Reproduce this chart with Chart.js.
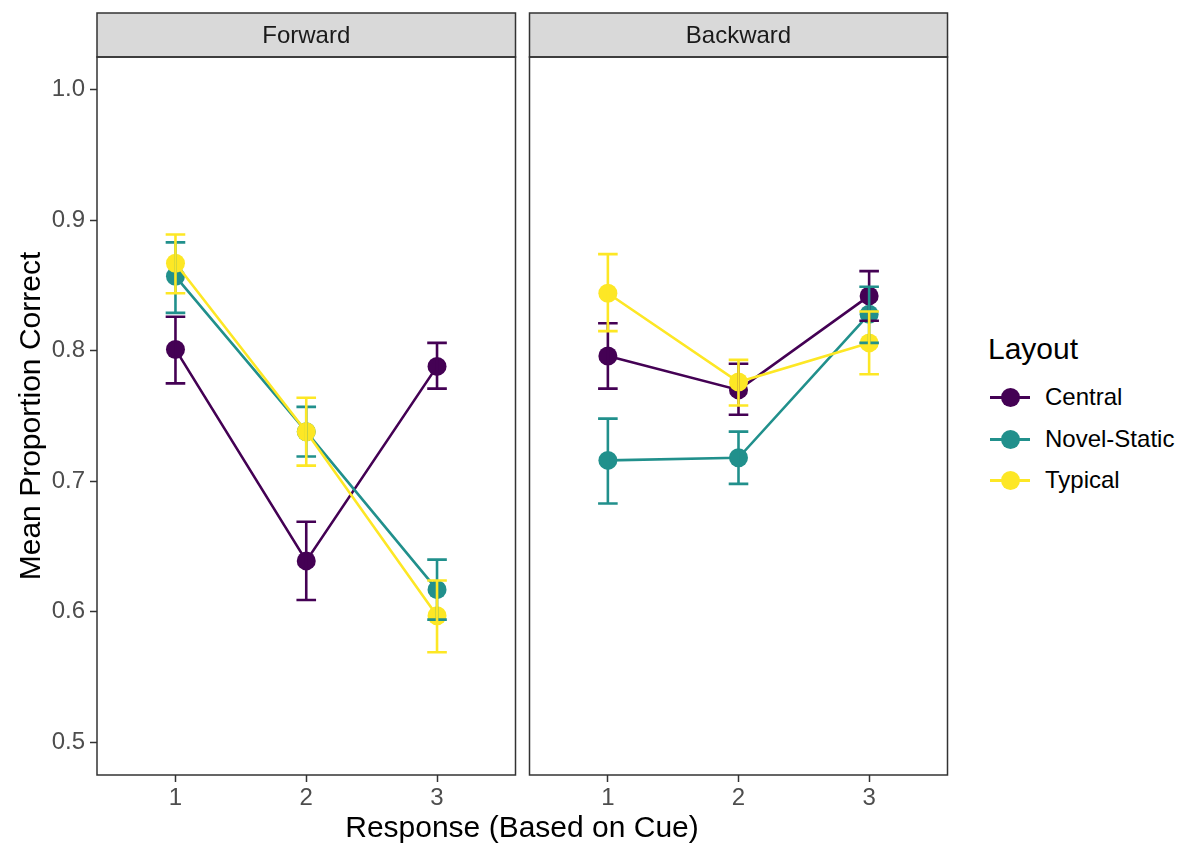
<!DOCTYPE html>
<html>
<head>
<meta charset="utf-8">
<title>Mean Proportion Correct by Response and Layout</title>
<script src="https://cdn.jsdelivr.net/npm/chart.js@4.4.1/dist/chart.umd.min.js"></script>
<style>
  html, body { margin: 0; padding: 0; background: #ffffff; }
  #wrap { position: relative; width: 1184px; height: 845px; overflow: hidden;
          font-family: "Liberation Sans", Arial, Helvetica, sans-serif; }
  canvas { position: absolute; top: 0; }
  #forward { left: 0; }
  #backward { left: 520px; }
  .xtitle { position: absolute; left: 322px; width: 400px; top: 809px; text-align: center;
            font-size: 30px; line-height: 36px; color: #000; }
  .legend-title { position: absolute; left: 988px; top: 331px; font-size: 30px; line-height: 36px; color: #000; }
  .legend-row { position: absolute; left: 988px; height: 30px; width: 196px; }
  .legend-row .line { position: absolute; left: 2px; top: 14px; width: 40px; height: 2.6px; }
  .legend-row .dot { position: absolute; left: 12.5px; top: 5.5px; width: 19px; height: 19px; border-radius: 50%; }
  .legend-row .lab { position: absolute; left: 57px; top: 0; font-size: 24px; line-height: 30px; color: #000; white-space: nowrap; }
</style>
</head>
<body>
<div id="wrap">
  <canvas id="forward" width="525" height="845"></canvas>
  <canvas id="backward" width="437" height="845"></canvas>
  <div class="xtitle">Response (Based on Cue)</div>
  <div class="legend-title">Layout</div>
  <div id="legend"></div>
</div>
<script>
// Response positions and axis ticks
const categories = [1, 2, 3];
const yTickValues = [0.5, 0.6, 0.7, 0.8, 0.9, 1.0];
const xTickValues = [1, 2, 3];

// Layout groups
const seriesNames = ['Central', 'Novel-Static', 'Typical'];
const seriesColors = ['#440154', '#21908C', '#FDE725'];

// Forward panel: means and error-bar limits
const forwardCentral = [0.801, 0.639, 0.788];
const forwardCentralLow = [0.775, 0.609, 0.771];
const forwardCentralHigh = [0.826, 0.669, 0.806];
const forwardNovel = [0.857, 0.738, 0.617];
const forwardNovelLow = [0.829, 0.719, 0.594];
const forwardNovelHigh = [0.883, 0.757, 0.640];
const forwardTypical = [0.867, 0.738, 0.597];
const forwardTypicalLow = [0.844, 0.712, 0.569];
const forwardTypicalHigh = [0.889, 0.764, 0.624];

// Backward panel: means and error-bar limits
const backwardCentral = [0.796, 0.770, 0.842];
const backwardCentralLow = [0.771, 0.751, 0.823];
const backwardCentralHigh = [0.821, 0.790, 0.861];
const backwardNovel = [0.716, 0.718, 0.828];
const backwardNovelLow = [0.683, 0.698, 0.806];
const backwardNovelHigh = [0.748, 0.738, 0.849];
const backwardTypical = [0.844, 0.776, 0.806];
const backwardTypicalLow = [0.815, 0.758, 0.782];
const backwardTypicalHigh = [0.874, 0.793, 0.830];

const FONT = '"Liberation Sans", Arial, Helvetica, sans-serif';
const Y_MIN = 0.475, Y_MAX = 1.025;
const X_MIN = 0.4, X_MAX = 3.6;
const CAP_HALF = 0.075;      // error-bar cap half width in x units
const STRIP_TOP = 13;

function toPoints(values) {
  return categories.map((c, i) => ({ x: c, y: values[i] }));
}

function makeDatasets(means) {
  return means.map((m, s) => ({
    label: seriesNames[s],
    data: toPoints(m),
    borderColor: seriesColors[s],
    backgroundColor: seriesColors[s],
    borderWidth: 2.6,
    pointRadius: 9.5,
    pointHoverRadius: 9.5,
    pointBorderWidth: 0,
    tension: 0,
    order: means.length - 1 - s
  }));
}

// Error bars, panel border and facet strip
function panelPlugin(stripLabel, lows, highs) {
  return {
    id: 'panelDecor',
    afterDatasetsDraw(chart) {
      const { ctx, chartArea: a, scales: { x, y } } = chart;
      ctx.save();
      ctx.beginPath();
      ctx.rect(a.left, a.top, a.right - a.left, a.bottom - a.top);
      ctx.clip();
      ctx.lineWidth = 2.6;
      ctx.lineCap = 'butt';
      lows.forEach((lo, s) => {
        ctx.strokeStyle = seriesColors[s];
        categories.forEach((c, i) => {
          const px = x.getPixelForValue(c);
          const half = x.getPixelForValue(c + CAP_HALF) - px;
          const y0 = y.getPixelForValue(lo[i]);
          const y1 = y.getPixelForValue(highs[s][i]);
          ctx.beginPath();
          ctx.moveTo(px, y0); ctx.lineTo(px, y1);
          ctx.moveTo(px - half, y0); ctx.lineTo(px + half, y0);
          ctx.moveTo(px - half, y1); ctx.lineTo(px + half, y1);
          ctx.stroke();
        });
      });
      ctx.restore();
    },
    afterDraw(chart) {
      const { ctx, chartArea: a } = chart;
      ctx.save();
      // strip
      ctx.fillStyle = '#D9D9D9';
      ctx.fillRect(a.left, STRIP_TOP, a.right - a.left, a.top - STRIP_TOP);
      ctx.strokeStyle = '#333333';
      ctx.lineWidth = 1.5;
      ctx.strokeRect(a.left, STRIP_TOP, a.right - a.left, a.top - STRIP_TOP);
      ctx.fillStyle = '#1A1A1A';
      ctx.font = '24px ' + FONT;
      ctx.textAlign = 'center';
      ctx.textBaseline = 'middle';
      ctx.fillText(stripLabel, (a.left + a.right) / 2, (STRIP_TOP + a.top) / 2 + 1);
      // panel border
      ctx.strokeRect(a.left, a.top, a.right - a.left, a.bottom - a.top);
      ctx.restore();
    }
  };
}

function makeChart(canvasId, stripLabel, means, lows, highs, showY, padLeft) {
  return new Chart(document.getElementById(canvasId), {
    type: 'line',
    data: { datasets: makeDatasets(means) },
    options: {
      responsive: false,
      animation: false,
      events: [],
      layout: { padding: { top: 57, right: 0, bottom: 0, left: padLeft } },
      plugins: { legend: { display: false }, tooltip: { enabled: false } },
      scales: {
        x: {
          type: 'linear',
          min: X_MIN, max: X_MAX,
          afterBuildTicks: s => { s.ticks = xTickValues.map(v => ({ value: v })); },
          afterFit: s => { s.height = 70; },
          grid: { display: true, drawOnChartArea: false, drawTicks: true, tickLength: 7,
                  tickColor: '#333333', tickWidth: 1.5 },
          border: { display: false },
          ticks: { color: '#4D4D4D', font: { family: FONT, size: 24 }, padding: 2,
                   callback: v => String(v), maxRotation: 0 }
        },
        y: {
          type: 'linear',
          display: showY,
          min: Y_MIN, max: Y_MAX,
          afterBuildTicks: s => { s.ticks = yTickValues.map(v => ({ value: v })); },
          afterFit: s => { s.width = showY ? 97 : 0; },
          grid: { display: true, drawOnChartArea: false, drawTicks: true, tickLength: 7,
                  tickColor: '#333333', tickWidth: 1.5 },
          border: { display: false },
          ticks: { color: '#4D4D4D', font: { family: FONT, size: 24 }, padding: 5,
                   callback: v => Number(v).toFixed(1) },
          title: { display: showY, text: 'Mean Proportion Correct', color: '#000000',
                   font: { family: FONT, size: 30 }, padding: { top: 14, bottom: 0 } }
        }
      }
    },
    plugins: [panelPlugin(stripLabel, lows, highs)]
  });
}

makeChart('forward', 'Forward',
  [forwardCentral, forwardNovel, forwardTypical],
  [forwardCentralLow, forwardNovelLow, forwardTypicalLow],
  [forwardCentralHigh, forwardNovelHigh, forwardTypicalHigh],
  true, 0);

makeChart('backward', 'Backward',
  [backwardCentral, backwardNovel, backwardTypical],
  [backwardCentralLow, backwardNovelLow, backwardTypicalLow],
  [backwardCentralHigh, backwardNovelHigh, backwardTypicalHigh],
  false, 9);

// Legend rows
const legendTops = [382, 424, 465];
const legendEl = document.getElementById('legend');
seriesNames.forEach((name, s) => {
  const row = document.createElement('div');
  row.className = 'legend-row';
  row.style.top = legendTops[s] + 'px';
  row.innerHTML = '<div class="line"></div><div class="dot"></div><div class="lab"></div>';
  row.querySelector('.line').style.background = seriesColors[s];
  row.querySelector('.dot').style.background = seriesColors[s];
  row.querySelector('.lab').textContent = name;
  legendEl.appendChild(row);
});
</script>
</body>
</html>
